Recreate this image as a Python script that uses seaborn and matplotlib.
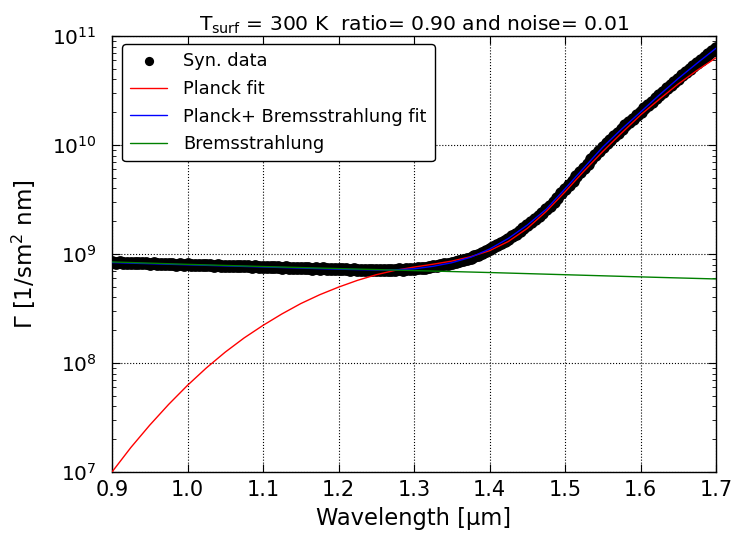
import numpy as np
import pandas as pd
import matplotlib
matplotlib.use("Agg")
import matplotlib.pyplot as plt
import seaborn as sns
from matplotlib.ticker import LogLocator, FixedLocator, FormatStrFormatter

# ---------------- data ----------------
data_wl = [0.900, 0.905, 0.910, 0.915, 0.920, 0.925, 0.930, 0.935, 0.940, 0.945,
           0.950, 0.955, 0.960, 0.965, 0.970, 0.975, 0.980, 0.985, 0.990, 0.995,
           1.000, 1.005, 1.010, 1.015, 1.020, 1.025, 1.030, 1.035, 1.040, 1.045,
           1.050, 1.055, 1.060, 1.065, 1.070, 1.075, 1.080, 1.085, 1.090, 1.095,
           1.100, 1.105, 1.110, 1.115, 1.120, 1.125, 1.130, 1.135, 1.140, 1.145,
           1.150, 1.155, 1.160, 1.165, 1.170, 1.175, 1.180, 1.185, 1.190, 1.195,
           1.200, 1.205, 1.210, 1.215, 1.220, 1.225, 1.230, 1.235, 1.240, 1.245,
           1.250, 1.255, 1.260, 1.265, 1.270, 1.275, 1.280, 1.285, 1.290, 1.295,
           1.300, 1.305, 1.310, 1.315, 1.320, 1.325, 1.330, 1.335, 1.340, 1.345,
           1.350, 1.355, 1.360, 1.365, 1.370, 1.375, 1.380, 1.385, 1.390, 1.395,
           1.400, 1.405, 1.410, 1.415, 1.420, 1.425, 1.430, 1.435, 1.440, 1.445,
           1.450, 1.455, 1.460, 1.465, 1.470, 1.475, 1.480, 1.485, 1.490, 1.495,
           1.500, 1.505, 1.510, 1.515, 1.520, 1.525, 1.530, 1.535, 1.540, 1.545,
           1.550, 1.555, 1.560, 1.565, 1.570, 1.575, 1.580, 1.585, 1.590, 1.595,
           1.600, 1.605, 1.610, 1.615, 1.620, 1.625, 1.630, 1.635, 1.640, 1.645,
           1.650, 1.655, 1.660, 1.665, 1.670, 1.675, 1.680, 1.685, 1.690, 1.695,
           1.700]
data_log10 = [8.925, 8.921, 8.924, 8.918, 8.920, 8.916, 8.921, 8.914, 8.913, 8.917,
              8.912, 8.914, 8.908, 8.912, 8.906, 8.909, 8.907, 8.903, 8.906, 8.901,
              8.904, 8.899, 8.902, 8.897, 8.900, 8.895, 8.898, 8.893, 8.897, 8.891,
              8.894, 8.889, 8.892, 8.887, 8.890, 8.886, 8.888, 8.883, 8.887, 8.881,
              8.884, 8.880, 8.882, 8.877, 8.880, 8.876, 8.878, 8.873, 8.876, 8.871,
              8.873, 8.869, 8.871, 8.866, 8.869, 8.864, 8.867, 8.862, 8.865, 8.860,
              8.862, 8.858, 8.861, 8.856, 8.859, 8.854, 8.857, 8.853, 8.856, 8.852,
              8.855, 8.852, 8.856, 8.853, 8.857, 8.855, 8.859, 8.857, 8.862, 8.862,
              8.866, 8.868, 8.873, 8.876, 8.882, 8.887, 8.893, 8.898, 8.905, 8.911,
              8.920, 8.927, 8.936, 8.945, 8.956, 8.967, 8.980, 8.994, 9.010, 9.026,
              9.045, 9.062, 9.082, 9.100, 9.122, 9.142, 9.165, 9.188, 9.213, 9.238,
              9.265, 9.292, 9.320, 9.350, 9.380, 9.410, 9.442, 9.480, 9.518, 9.556,
              9.597, 9.634, 9.672, 9.712, 9.750, 9.790, 9.830, 9.868, 9.905, 9.944,
              9.980, 10.015, 10.048, 10.080, 10.112, 10.146, 10.180, 10.210, 10.240, 10.272,
              10.302, 10.336, 10.368, 10.398, 10.428, 10.460, 10.490, 10.519, 10.548, 10.580,
              10.610, 10.638, 10.668, 10.694, 10.722, 10.751, 10.780, 10.807, 10.835, 10.861,
              10.888]

fit_wl = [0.900, 0.925, 0.950, 0.975, 1.000, 1.025, 1.050, 1.075, 1.100, 1.125,
          1.150, 1.175, 1.200, 1.225, 1.250, 1.275, 1.300, 1.325, 1.350, 1.375,
          1.400, 1.425, 1.450, 1.475, 1.500, 1.525, 1.550, 1.575, 1.600, 1.625,
          1.650, 1.675, 1.700]
planck_log10 = [7.000, 7.225, 7.430, 7.620, 7.795, 7.955, 8.100, 8.230, 8.345, 8.450,
                8.545, 8.626, 8.696, 8.758, 8.810, 8.850, 8.880, 8.906, 8.935, 8.975,
                9.030, 9.115, 9.235, 9.390, 9.570, 9.760, 9.940, 10.110, 10.275, 10.420,
                10.560, 10.685, 10.800]
pb_log10 = [8.922, 8.916, 8.911, 8.906, 8.901, 8.896, 8.891, 8.886, 8.881, 8.876,
            8.871, 8.866, 8.861, 8.857, 8.854, 8.855, 8.864, 8.887, 8.920, 8.970,
            9.045, 9.143, 9.265, 9.410, 9.597, 9.790, 9.980, 10.146, 10.302, 10.459,
            10.610, 10.751, 10.888]

brems_wl = [0.9, 1.0, 1.1, 1.2, 1.3, 1.4, 1.5, 1.6, 1.7]
brems_log10 = [8.927, 8.905, 8.885, 8.866, 8.848, 8.830, 8.810, 8.790, 8.771]

x_ticks = [0.9, 1.0, 1.1, 1.2, 1.3, 1.4, 1.5, 1.6, 1.7]

title = r"$\mathregular{T_{surf}}$ = 300 K  ratio= 0.90 and noise= 0.01"
xlabel = "Wavelength [\u03bcm]"
ylabel = "\u0393 [1/sm$^2$ nm]"

# ---------------- style ----------------
sns.set_theme(style="ticks")
plt.rcParams["font.family"] = ["DejaVu Sans"]
plt.rcParams["mathtext.fontset"] = "dejavusans"
plt.rcParams["axes.edgecolor"] = "black"
plt.rcParams["axes.linewidth"] = 1.0
plt.rcParams["text.color"] = "black"
plt.rcParams["axes.labelcolor"] = "black"
plt.rcParams["xtick.color"] = "black"
plt.rcParams["ytick.color"] = "black"

df_data = pd.DataFrame({"wl": data_wl, "g": np.power(10.0, data_log10)})
df_fit = pd.DataFrame({"wl": fit_wl,
                       "planck": np.power(10.0, planck_log10),
                       "pb": np.power(10.0, pb_log10)})
df_brems = pd.DataFrame({"wl": brems_wl, "g": np.power(10.0, brems_log10)})

fig = plt.figure(figsize=(7.35, 5.34), dpi=100)
ax = fig.add_axes([112 / 735, 1 - 472 / 534, (716 - 112) / 735, (472 - 36) / 534])

sns.scatterplot(data=df_data, x="wl", y="g", ax=ax, color="black", s=85,
                edgecolor="black", linewidth=0, label="Syn. data", zorder=3)
sns.lineplot(data=df_fit, x="wl", y="planck", ax=ax, color="#ff0000", lw=1.0,
             label="Planck fit", zorder=4)
sns.lineplot(data=df_fit, x="wl", y="pb", ax=ax, color="#0000ff", lw=1.0,
             label="Planck+ Bremsstrahlung fit", zorder=5)
sns.lineplot(data=df_brems, x="wl", y="g", ax=ax, color="#008000", lw=1.0,
             label="Bremsstrahlung", zorder=6)

ax.set_yscale("log")
ax.set_xlim(0.9, 1.7)
ax.set_ylim(1e7, 1e11)
ax.xaxis.set_major_locator(FixedLocator(x_ticks))
ax.xaxis.set_major_formatter(FormatStrFormatter("%.1f"))
ax.yaxis.set_major_locator(LogLocator(base=10, numticks=10))
ax.yaxis.set_minor_locator(LogLocator(base=10, subs=np.arange(2, 10), numticks=20))

ax.grid(True, which="major", color="black", linestyle=":", linewidth=0.8)
ax.tick_params(which="both", direction="in", top=True, right=True, colors="black")
ax.tick_params(which="major", length=6, width=0.8)
ax.tick_params(which="minor", length=3, width=0.6)
ax.tick_params(axis="x", labelsize=15, pad=6)
ax.tick_params(axis="y", labelsize=14.5, pad=11)

ax.set_xlabel(xlabel, fontsize=16.3, labelpad=5)
ax.set_ylabel(ylabel, fontsize=16.5, labelpad=10)
ax.set_title(title, fontsize=14.6, pad=4)

leg = ax.legend(loc="upper left", bbox_to_anchor=(0.0166, 0.9817), borderaxespad=0,
                fontsize=12.8, frameon=True, fancybox=True, framealpha=1,
                edgecolor="black", handlelength=2.1, handletextpad=0.9,
                labelspacing=0.55, borderpad=0.45, markerscale=0.72)
leg.get_frame().set_linewidth(1.0)

fig.savefig("out.png", dpi=100)
